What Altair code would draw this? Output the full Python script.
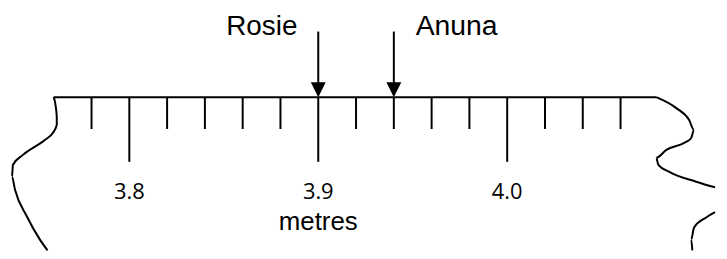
import altair as alt
import pandas as pd

# tape graduations (metres)
tick_values = [3.78, 3.80, 3.82, 3.84, 3.86, 3.88, 3.90, 3.92, 3.94, 3.96, 3.98, 4.00, 4.02, 4.04, 4.06]
major_values = [3.80, 3.90, 4.00]
major_labels = ["3.8", "3.9", "4.0"]
tape_start, tape_end = 3.76, 4.0789
unit_label = "metres"

# people and their readings
names = ["Rosie", "Anuna"]
readings = [3.90, 3.94]

# torn edges of the tape (x in metres, y in px below tape line)
left_x = [3.7600, 3.7611, 3.7616, 3.7616, 3.7595, 3.7553, 3.7437, 3.7384, 3.7379, 3.7395, 3.7458, 3.7526, 3.7567]
left_y = [0, 10, 20, 28, 36, 43, 58, 68, 80, 93, 120, 143, 154]
right1_x = [4.0789, 4.0895, 4.0963, 4.0989, 4.0974, 4.0937, 4.0842, 4.0789, 4.0800, 4.0858, 4.1000, 4.1100]
right1_y = [0, 11, 23, 33, 41, 46, 53, 61, 68, 75, 85, 90.6]
right2_x = [4.1100, 4.1053, 4.0989, 4.0974, 4.0980]
right2_y = [115.7, 121, 131, 143, 154]

XS = alt.Scale(domain=[3.735789, 4.11], nice=False, zero=False)
YS = alt.Scale(domain=[-89, 154], reverse=True, nice=False, zero=False)
X = alt.X("x:Q", scale=XS, axis=None)

def Y(field):
    return alt.Y(field, scale=YS, axis=None)

ticks = pd.DataFrame({
    "x": tick_values,
    "y0": [0] * len(tick_values),
    "y1": [65 if any(abs(t - m) < 1e-9 for m in major_values) else 32 for t in tick_values],
})
tick_layer = alt.Chart(ticks).mark_rule(color="black", strokeWidth=2).encode(
    x=X, y=Y("y0:Q"), y2="y1:Q")

tape = pd.DataFrame({"x": [tape_start], "x2": [tape_end], "y": [0]})
tape_layer = alt.Chart(tape).mark_rule(color="black", strokeWidth=2).encode(
    x=X, x2="x2:Q", y=Y("y:Q"))

labels = pd.DataFrame({"x": major_values, "t": major_labels, "y": [102] * 3})
label_layer = alt.Chart(labels).mark_text(font="Open Sans", fontSize=22, baseline="alphabetic", color="black").encode(
    x=X, y=Y("y:Q"), text="t:N")

unit = pd.DataFrame({"x": [3.90], "t": [unit_label], "y": [134]})
unit_layer = alt.Chart(unit).mark_text(font="Liberation Sans", fontSize=26, baseline="alphabetic", color="black").encode(
    x=X, y=Y("y:Q"), text="t:N")

arrows = pd.DataFrame({"x": readings, "y0": [-66, -66], "y1": [-14, -14], "tip": [0, 0]})
shaft_layer = alt.Chart(arrows).mark_rule(color="black", strokeWidth=2).encode(
    x=X, y=Y("y0:Q"), y2="y1:Q")
head_layer = alt.Chart(arrows).mark_point(
    shape="M -1 -2 L 1 -2 L 0 0 Z", size=225, filled=True, color="black", opacity=1, strokeWidth=0
).encode(x=X, y=Y("tip:Q"))

rosie = alt.Chart(pd.DataFrame({"x": [readings[0]], "t": [names[0]], "y": [-63]})).mark_text(
    font="Liberation Sans", fontSize=28, baseline="alphabetic", align="right", dx=-21, color="black"
).encode(x=X, y=Y("y:Q"), text="t:N")
anuna = alt.Chart(pd.DataFrame({"x": [readings[1]], "t": [names[1]], "y": [-63]})).mark_text(
    font="Liberation Sans", fontSize=28.5, baseline="alphabetic", align="left", dx=22, color="black"
).encode(x=X, y=Y("y:Q"), text="t:N")

def edge(xs, ys, name):
    df = pd.DataFrame({"x": xs, "y": ys, "o": list(range(len(xs))), "seg": [name] * len(xs)})
    return alt.Chart(df).mark_line(color="black", strokeWidth=2, interpolate="monotone").encode(
        x=X, y=Y("y:Q"), order="o:Q", detail="seg:N")

left_layer = edge(left_x, left_y, "L")
right1_layer = edge(right1_x, right1_y, "R1")
right2_layer = edge(right2_x, right2_y, "R2")

chart = alt.layer(
    tape_layer, tick_layer, label_layer, unit_layer, shaft_layer, head_layer, rosie, anuna,
    left_layer, right1_layer, right2_layer
).properties(width=711, height=243, padding=0, background="white").configure_view(strokeWidth=0)

chart.save("out.html", embed_options={"renderer": "svg", "actions": False})
